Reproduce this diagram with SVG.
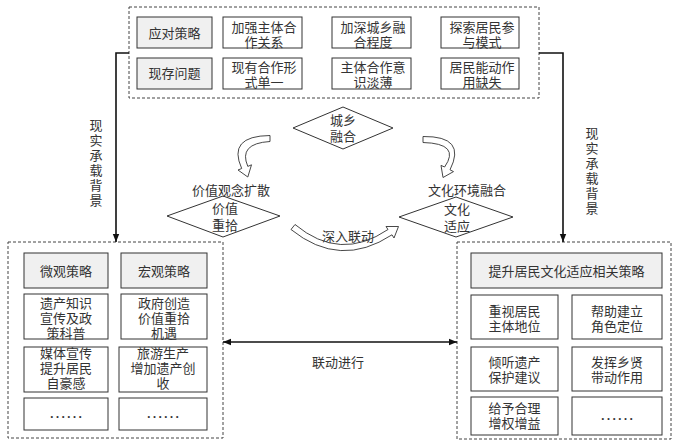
<svg xmlns="http://www.w3.org/2000/svg" width="682" height="447" viewBox="0 0 682 447">
<defs>
<style>
text{font-family:"Liberation Serif","Noto Sans CJK SC",serif;font-size:13px;fill:#333;text-anchor:middle}
.box{fill:#fff;stroke:#333;stroke-width:1}
.gbox{fill:#f0f0f0;stroke:#333;stroke-width:1}
.dash{fill:none;stroke:#444;stroke-width:1;stroke-dasharray:3 2}
.dia{fill:#fff;stroke:#333;stroke-width:1}
.line{fill:none;stroke:#111;stroke-width:1.6}
.carrow{fill:#fff;stroke:#333;stroke-width:0.9;stroke-linejoin:round}
.dots{font-size:17px}
</style>
<marker id="ah" viewBox="0 0 10 10" refX="10" refY="5" markerUnits="userSpaceOnUse" markerWidth="8" markerHeight="8" orient="auto-start-reverse">
<path d="M0,1 L10,5 L0,9 Z" fill="#111"/>
</marker>
</defs>
<rect width="682" height="447" fill="#fff"/>

<g id="top-group">
<rect class="dash" x="129" y="7" width="410" height="91"/>
<g id="n-yingdui"><rect class="gbox" x="137" y="17" width="75" height="31"/><text x="174.5" y="37.5">应对策略</text></g>
<g id="n-jiaqiang"><rect class="box" x="223" y="17" width="79" height="31"/><text x="264" y="31.5">加强主体合<tspan x="264" dy="15.5">作关系</tspan></text></g>
<g id="n-jiashen"><rect class="box" x="332" y="17" width="79" height="31"/><text x="373" y="31.5">加深城乡融<tspan x="373" dy="15.5">合程度</tspan></text></g>
<g id="n-tansuo"><rect class="box" x="441" y="17" width="78" height="31"/><text x="482" y="31.5">探索居民参<tspan x="482" dy="15.5">与模式</tspan></text></g>
<g id="n-xiancun"><rect class="gbox" x="137" y="58" width="75" height="31"/><text x="174.5" y="78">现存问题</text></g>
<g id="n-xianyou"><rect class="box" x="223" y="58" width="79" height="31"/><text x="264" y="71.5">现有合作形<tspan x="264" dy="15.5">式单一</tspan></text></g>
<g id="n-zhuti"><rect class="box" x="332" y="58" width="79" height="31"/><text x="373" y="71.5">主体合作意<tspan x="373" dy="15.5">识淡薄</tspan></text></g>
<g id="n-jumin"><rect class="box" x="441" y="58" width="78" height="31"/><text x="482" y="71.5">居民能动作<tspan x="482" dy="15.5">用缺失</tspan></text></g>
</g>

<g id="left-group">
<rect class="dash" x="8" y="242" width="215" height="196"/>
<g id="n-weiguan"><rect class="gbox" x="24" y="253" width="84" height="35"/><text x="66" y="275.5">微观策略</text></g>
<g id="n-hongguan"><rect class="gbox" x="121" y="253" width="86" height="35"/><text x="164" y="275.5">宏观策略</text></g>
<g id="n-yichan"><rect class="box" x="24" y="294" width="84" height="45"/><text x="66" y="307.5">遗产知识<tspan x="66" dy="15">宣传及政</tspan><tspan x="66" dy="15">策科普</tspan></text></g>
<g id="n-zhengfu"><rect class="box" x="121" y="294" width="86" height="45"/><text x="164" y="307.5">政府创造<tspan x="164" dy="15">价值重拾</tspan><tspan x="164" dy="15">机遇</tspan></text></g>
<g id="n-meiti"><rect class="box" x="24" y="347" width="84" height="45"/><text x="66" y="357.5">媒体宣传<tspan x="66" dy="15">提升居民</tspan><tspan x="66" dy="15">自豪感</tspan></text></g>
<g id="n-lvyou"><rect class="box" x="119" y="347" width="88" height="45"/><text x="163" y="357.5">旅游生产<tspan x="163" dy="15">增加遗产创</tspan><tspan x="163" dy="15">收</tspan></text></g>
<g id="n-l-etc1"><rect class="box" x="24" y="398" width="84" height="32"/><text class="dots" x="66" y="418">……</text></g>
<g id="n-l-etc2"><rect class="box" x="119" y="398" width="88" height="32"/><text class="dots" x="163" y="418">……</text></g>
</g>

<g id="right-group">
<rect class="dash" x="457" y="242" width="214" height="197"/>
<g id="n-tisheng"><rect class="gbox" x="471" y="253" width="191" height="35"/><text x="566.5" y="275.5">提升居民文化适应相关策略</text></g>
<g id="n-zhongshi"><rect class="box" x="471" y="295" width="87" height="44"/><text x="514.5" y="316">重视居民<tspan x="514.5" dy="15">主体地位</tspan></text></g>
<g id="n-bangzhu"><rect class="box" x="572" y="295" width="90" height="44"/><text x="617" y="316">帮助建立<tspan x="617" dy="15">角色定位</tspan></text></g>
<g id="n-qingting"><rect class="box" x="471" y="347" width="87" height="44"/><text x="514.5" y="367">倾听遗产<tspan x="514.5" dy="15">保护建议</tspan></text></g>
<g id="n-fahui"><rect class="box" x="572" y="347" width="90" height="44"/><text x="617" y="367">发挥乡贤<tspan x="617" dy="15">带动作用</tspan></text></g>
<g id="n-geiyu"><rect class="box" x="471" y="397" width="87" height="38"/><text x="514.5" y="412.5">给予合理<tspan x="514.5" dy="15.5">增权增益</tspan></text></g>
<g id="n-r-etc"><rect class="box" x="572" y="397" width="90" height="38"/><text class="dots" x="617" y="420">……</text></g>
</g>

<g id="n-chengxiang"><polygon class="dia" points="293,128 343,107 393,128 343,149"/><text x="343" y="124.5">城乡<tspan x="343" dy="16.5">融合</tspan></text></g>
<g id="n-jiazhi"><polygon class="dia" points="167,216 223,196 280,216 223,237"/><text x="225" y="212.5">价值<tspan x="225" dy="17">重拾</tspan></text></g>
<g id="n-wenhua"><polygon class="dia" points="399,217 456,197 513,217 456,237"/><text x="457" y="213.5">文化<tspan x="457" dy="17">适应</tspan></text></g>

<g id="connectors">
<path class="line" d="M129,53 H116 V242" marker-end="url(#ah)"/>
<path class="line" d="M539,53 H563 V242" marker-end="url(#ah)"/>
<path class="line" d="M223,342 H457" marker-start="url(#ah)" marker-end="url(#ah)"/>
<path class="carrow" d="M270,135.5 Q227,136 241.7,168.5 L238,170 L247.8,177 L251.5,164.8 L247.8,166.4 Q238,143.5 270,141.5 Z"/>
<path class="carrow" d="M423,136.5 Q467,136 450,169.8 L453.5,171.6 L443,177.5 L441,165.4 L444.6,167 Q461,143.5 423,142.5 Z"/>
<path class="carrow" d="M291,229.5 Q340,269 392,234.8 L394,238 L398.5,226.5 L386,226.5 L388,229.5 Q340,262 295,224.5 Z"/>
</g>

<g id="labels">
<text x="96" y="130">现<tspan x="96" dy="15">实</tspan><tspan x="96" dy="15">承</tspan><tspan x="96" dy="15">载</tspan><tspan x="96" dy="15">背</tspan><tspan x="96" dy="15">景</tspan></text>
<text x="592" y="138">现<tspan x="592" dy="15">实</tspan><tspan x="592" dy="15">承</tspan><tspan x="592" dy="15">载</tspan><tspan x="592" dy="15">背</tspan><tspan x="592" dy="15">景</tspan></text>
<text x="231" y="194.5">价值观念扩散</text>
<text x="467" y="194.5">文化环境融合</text>
<text x="348" y="240.5">深入联动</text>
<text x="338" y="366.5">联动进行</text>
</g>
</svg>
